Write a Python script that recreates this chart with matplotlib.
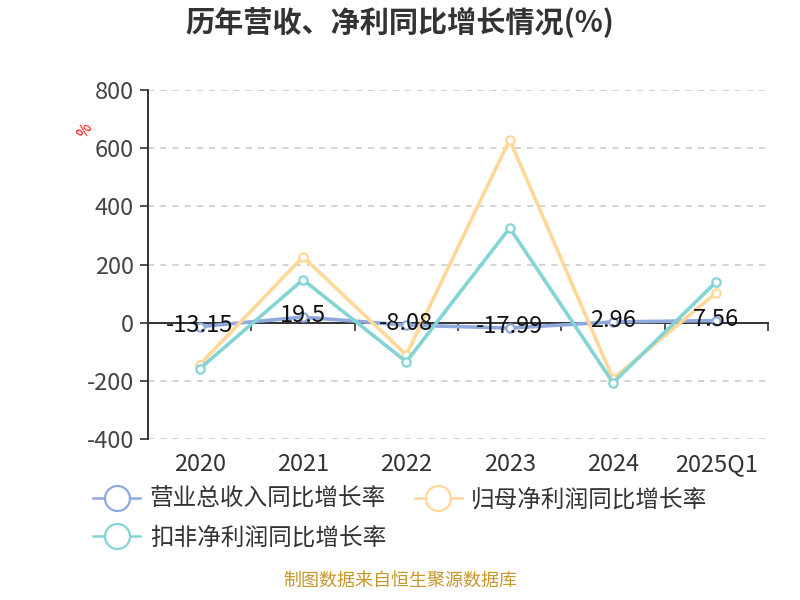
import matplotlib
matplotlib.use('Agg')
import matplotlib.pyplot as plt
from matplotlib.lines import Line2D

plt.rcParams['font.family'] = ['Noto Sans CJK SC', 'DejaVu Sans']
plt.rcParams['axes.unicode_minus'] = False

categorias = ['2020', '2021', '2022', '2023', '2024', '2025Q1']
ingresos = [-13.15, 19.5, -8.08, -17.99, 2.96, 7.56]
neto_matriz = [-144, 227, -110, 629, -192, 103]
neto_recurrente = [-158, 148, -134, 326, -206, 141]

nombres = ['营业总收入同比增长率', '归母净利润同比增长率', '扣非净利润同比增长率']
colores = ['#8fa9dc', '#ffd898', '#85d4d4']

fig = plt.figure(figsize=(8, 6), dpi=100)
ax = fig.add_axes([0.185, 0.268, 0.775, 0.582])

x = list(range(len(categorias)))
series = [ingresos, neto_matriz, neto_recurrente]
for i, (vals, color) in enumerate(zip(series, colores)):
    ax.plot(x, vals, color=color, linewidth=2.6, marker='o', markersize=6,
            markerfacecolor='white', markeredgecolor=color, markeredgewidth=1.6,
            zorder=3 + i, solid_capstyle='round')

# etiquetas de la serie de ingresos
for xi, v in zip(x, ingresos):
    ax.text(xi, v + 4, f'{v:g}', ha='center', va='center', fontsize=17,
            color='#111111', zorder=10)

ax.set_xlim(-0.5, len(categorias) - 0.5)
ax.set_ylim(-400, 800)
ax.set_yticks([-400, -200, 0, 200, 400, 600, 800])
ax.tick_params(axis='y', labelsize=17, colors='#333333', length=6, width=1.2,
               pad=4)
for lbl in ax.get_yticklabels():
    lbl.set_color('#444444')

ax.yaxis.grid(True, linestyle=(0, (4, 4)), color='#c8c8c8', linewidth=1.1)
ax.set_axisbelow(True)

for lado in ['top', 'right']:
    ax.spines[lado].set_visible(False)
ax.spines['left'].set_color('#333333')
ax.spines['left'].set_linewidth(1.4)
ax.spines['bottom'].set_position(('data', 0))
ax.spines['bottom'].set_color('#333333')
ax.spines['bottom'].set_linewidth(1.4)

ax.set_xticks([i + 0.5 for i in range(len(categorias))])
ax.set_xticklabels([])
ax.tick_params(axis='x', length=6, width=1.2, colors='#333333', direction='out')

eje_cat = ax.secondary_xaxis(0)
eje_cat.set_xticks(x)
eje_cat.set_xticklabels(categorias)
eje_cat.tick_params(length=0, labelsize=17, colors='#333333', pad=10)
eje_cat.spines['bottom'].set_visible(False)

ax.text(-0.102, 0.885, '%', transform=ax.transAxes, rotation=60, color='red',
        fontsize=11, ha='center', va='center')

fig.text(0.5, 0.963, '历年营收、净利同比增长情况(%)', ha='center', va='center',
         fontsize=21, fontweight='bold', color='#333333')

# orden para que las filas queden como en el original
orden = [0, 2, 1]
manijas = [Line2D([0], [0], color=colores[i], linewidth=1.8, marker='o',
                  markersize=18, markerfacecolor='white',
                  markeredgecolor=colores[i], markeredgewidth=1.6)
           for i in orden]
fig.legend(manijas, [nombres[i] for i in orden], loc='upper left',
           bbox_to_anchor=(0.09, 0.222), ncol=2, frameon=False, fontsize=17,
           handlelength=2.0, handletextpad=0.4, columnspacing=1.2,
           labelspacing=0.65, labelcolor='#333333')

fig.text(0.5, 0.018, '制图数据来自恒生聚源数据库', ha='center', va='bottom',
         fontsize=13, color='#c8962a')

fig.savefig('out.png', dpi=100)
